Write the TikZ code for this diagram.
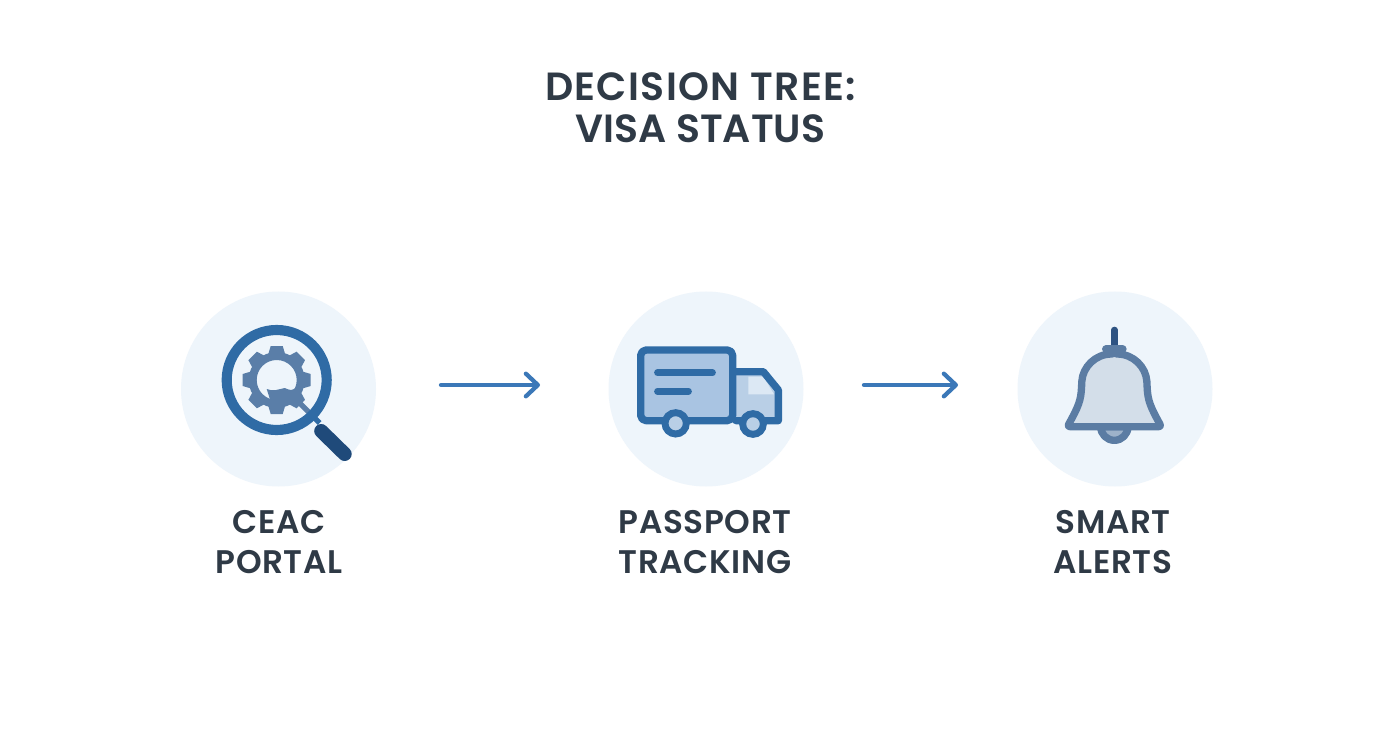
\documentclass[tikz,border=0pt]{standalone}
\usepackage{fontspec}
\setmainfont{Poppins}[BoldFont={Poppins SemiBold}]
\usetikzlibrary{arrows.meta}
\definecolor{halo}{HTML}{EEF5FB}
\definecolor{ink}{HTML}{2F3A46}
\definecolor{arrowblue}{HTML}{3B78B8}
\definecolor{ringblue}{HTML}{2F6BA5}
\definecolor{gearblue}{HTML}{5A7EA8}
\definecolor{navy}{HTML}{1F4A7A}
\definecolor{boxfill}{HTML}{A9C4E2}
\definecolor{cabfill}{HTML}{B9CFE6}
\definecolor{winfill}{HTML}{DCE8F4}
\definecolor{bellline}{HTML}{5B7CA3}
\definecolor{bellfill}{HTML}{D3DEE9}
\definecolor{clapper}{HTML}{9DB2CA}
\definecolor{rod}{HTML}{2E5382}
\tikzset{
  halocircle/.style={circle,fill=halo,draw=none,minimum size=195*0.75pt,inner sep=0pt},
  titletext/.style={font=\fontsize{29.5pt}{31.5pt}\selectfont\bfseries\addfontfeatures{LetterSpace=3.5},text=ink,align=center,inner sep=0pt},
  labeltext/.style={font=\fontsize{24.5pt}{30pt}\selectfont\bfseries\addfontfeatures{LetterSpace=2},text=ink,align=center,inner sep=0pt},
  flow/.style={draw=arrowblue,line width=3.2pt,line cap=round,-{Straight Barb[length=9pt,width=17pt,line width=3.2pt,round]}},
  truckline/.style={draw=ringblue,line width=5.5pt,line join=round,line cap=round},
  bellstroke/.style={draw=bellline,line width=5.5pt,line join=round},
}
\begin{document}
\begin{tikzpicture}[x=0.75pt,y=-0.75pt]
\useasboundingbox (0,0) rectangle (1392,752);
\fill[white] (0,0) rectangle (1392,752);
% title
\node[titletext] (title) at (700.5,108) {DECISION TREE:\\{\addfontfeatures{LetterSpace=0}VISA STATUS}};
% halos
\node[halocircle] (ceac) at (278.5,389) {};
\node[halocircle] (pass) at (706,389) {};
\node[halocircle] (bell) at (1115,389) {};
% labels
\node[labeltext] (l1) at (279,542) {CEAC\\PORTAL};
\node[labeltext] (l2) at (705,542) {PASSPORT\\TRACKING};
\node[labeltext] (l3) at (1113,542) {SMART\\ALERTS};
% arrows
\coordinate (a1s) at (441,385); \coordinate (a1e) at (540,385);
\coordinate (a2s) at (864,385); \coordinate (a2e) at (958,385);
\draw[flow] (a1s) -- (a1e);
\draw[flow] (a2s) -- (a2e);
% magnifier
\begin{scope}[shift={(276.7,380)}]
  % gear
  \foreach \a in {0,45,...,315}
    \fill[gearblue,rotate=\a] (-6,-34) -- (6,-34) -- (9,-24) -- (-9,-24) -- cycle;
  \fill[gearblue,even odd rule] (0,0) circle[radius=28] (0,0) circle[radius=20];
  % blob in the hole
  \fill[gearblue] (-10,9) .. controls (-4,12) and (3,9) .. (8,8) .. controls (13,10) and (16,12) .. (20,6)
     -- (22,20) -- (-4,28) -- cycle;
  % thin neck
  \draw[gearblue,line width=4pt] (18,18) -- (36,36);
  % ring
  \draw[ringblue,line width=7.6pt] (0,0) circle[radius=50];
  \draw[ringblue,line width=4pt] (33,33) -- (43,43);
  \draw[navy,line width=10.5pt,line cap=round] (44.5,51) -- (68,74);
\end{scope}
% truck
\begin{scope}[shift={(600,280)},x=0.25pt,y=-0.25pt]
  \fill[cabfill] (408,275) -- (490,275) -- (535,330) -- (535,422) -- (408,422) -- cycle;
  \fill[winfill] (445,290) -- (490,290) -- (522,343) -- (445,343) -- cycle;
  \draw[truckline] (408,275) -- (490,275) -- (535,330) -- (535,422) -- (408,422);
  \filldraw[truckline,fill=boxfill,rounded corners=4pt] (122,210) rectangle (398,422);
  \draw[truckline,line width=4.8pt] (172,278) -- (338,278);
  \draw[truckline,line width=4.8pt] (172,334) -- (266,334);
  \filldraw[ringblue,fill=cabfill,line width=5.2pt] (227,430) circle[radius=32];
  \filldraw[ringblue,fill=cabfill,line width=5.2pt] (459,432) circle[radius=31];
\end{scope}
% bell
\begin{scope}[shift={(1010,280)},x=0.25pt,y=-0.25pt]
  \draw[rod,line width=5pt,line cap=round] (313,150) -- (313,205);
  \filldraw[bellstroke,fill=clapper] (272,440) arc[start angle=180,end angle=0,radius=41] -- cycle;
  \filldraw[bellstroke,fill=bellfill,rounded corners=2pt]
    (313,222) .. controls (255,222) and (218,262) .. (215,312)
    .. controls (213,362) and (205,380) .. (172,440)
    -- (454,440)
    .. controls (421,380) and (413,362) .. (411,312)
    .. controls (408,262) and (371,222) .. (313,222) -- cycle;
  \draw[bellline,line width=6pt,line cap=round] (288,208) -- (338,208);
\end{scope}
\end{tikzpicture}
\end{document}
